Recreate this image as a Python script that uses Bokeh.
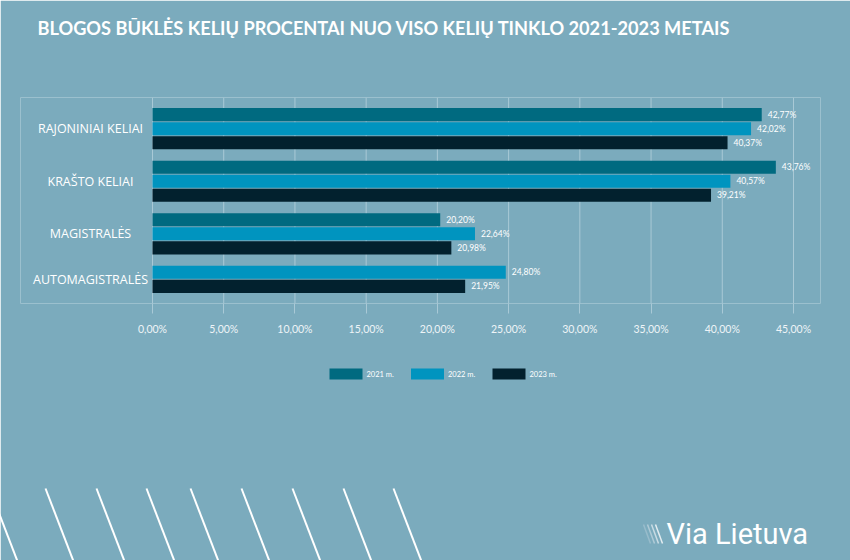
from bokeh.plotting import figure
from bokeh.models import ColumnDataSource, FactorRange, Range1d, FixedTicker
from bokeh.core.properties import value
from bokeh.embed import file_html
from bokeh.resources import INLINE

# ---------------- data ----------------
categories = ["RAJONINIAI KELIAI", "KRAŠTO KELIAI", "MAGISTRALĖS", "AUTOMAGISTRALĖS"]
years = ["2021 m.", "2022 m.", "2023 m."]
values_2021 = [42.77, 43.76, 20.20, None]
values_2022 = [42.02, 40.57, 22.64, 24.80]
values_2023 = [40.37, 39.21, 20.98, 21.95]
x_ticks = [0, 5, 10, 15, 20, 25, 30, 35, 40, 45]
x_tick_labels = ["0,00%", "5,00%", "10,00%", "15,00%", "20,00%",
                 "25,00%", "30,00%", "35,00%", "40,00%", "45,00%"]
title_text = "BLOGOS BŪKLĖS KELIŲ PROCENTAI NUO VISO KELIŲ TINKLO 2021-2023 METAIS"
logo_text = "Via Lietuva"

# ---------------- style ----------------
BG = "#7BABBD"
COLORS = ["#006A80", "#0094BF", "#02212E"]
GRID = "#A9C9D6"
FONT = "Lato"
W, H = 850, 560
LEFT, RIGHT, TOP, BOTTOM = 20, 820, 97, 303   # frame edges (px)
ZERO_PX = 152
PX_PER_UNIT = (793 - ZERO_PX) / 45.0
x0 = -(ZERO_PX - LEFT) / PX_PER_UNIT
x1 = (RIGHT - ZERO_PX) / PX_PER_UNIT
GROUP_PAD, RANGE_PAD = 0.74, 0.72

series = [values_2021, values_2022, values_2023]

factors = []
for ci in reversed(range(len(categories))):
    for yi in reversed(range(len(years))):
        if series[yi][ci] is not None:
            factors.append((categories[ci], years[yi]))

y_range = FactorRange(*factors, group_padding=GROUP_PAD, factor_padding=0.0,
                      range_padding=RANGE_PAD, range_padding_units="absolute")

# helpers: page pixel -> plot coordinates (for page decorations outside the frame)
_span = len(factors) + (len(categories) - 1) * GROUP_PAD + 2 * RANGE_PAD
def px_x(px):
    return (px - ZERO_PX) / PX_PER_UNIT
def px_y(py):
    return -RANGE_PAD + (BOTTOM - py) * _span / (BOTTOM - TOP)

p = figure(width=W, height=H, x_range=Range1d(x0, x1), y_range=y_range,
           output_backend="svg", toolbar_location=None,
           min_border_left=LEFT, min_border_right=W - RIGHT,
           min_border_top=TOP, min_border_bottom=H - BOTTOM,
           outline_line_color=None,
           background_fill_color=BG, border_fill_color=BG)

# axes
p.yaxis.visible = False
xa = p.xaxis[0]
xa.ticker = FixedTicker(ticks=x_ticks)
xa.major_label_overrides = {t_: l for t_, l in zip(x_ticks, x_tick_labels)}
xa.axis_line_color = None
xa.major_tick_line_color = GRID
xa.major_tick_out = 10
xa.major_tick_in = 0
xa.minor_tick_line_color = None
xa.major_label_standoff = 9
xa.major_label_text_color = "#EEF4F7"
xa.major_label_text_font = FONT
xa.major_label_text_font_size = "10.5px"

# vertical gridlines at the tick values (drawn as an underlay)
p.grid.visible = False
p.segment(x0=x_ticks, x1=x_ticks, y0=[px_y(TOP)] * len(x_ticks),
          y1=[px_y(BOTTOM)] * len(x_ticks), level="underlay",
          line_color=GRID, line_width=1)

for yi, yr in enumerate(years):
    fs, vs, labs = [], [], []
    for ci, cat in enumerate(categories):
        v = series[yi][ci]
        if v is None:
            continue
        fs.append((cat, yr))
        vs.append(v)
        labs.append(f"{v:.2f}%".replace(".", ","))
    src = ColumnDataSource(dict(f=fs, v=vs, lbl=labs))
    p.hbar(y="f", left=0, right="v", height=0.93, source=src,
           fill_color=COLORS[yi], line_color=None)
    p.text(x="v", y="f", text="lbl", source=src, x_offset=6,
           text_baseline="middle", text_align="left",
           text_font=value(FONT), text_font_size="8.5px", text_color="white")

# category labels
csrc = ColumnDataSource(dict(y=categories, x=[0] * len(categories), t=categories))
p.text(x="x", y="y", text="t", source=csrc, x_offset=-62, text_align="center",
       text_baseline="middle", text_font=value("Open Sans"), text_font_size="12.5px",
       text_color="white")

# ---------------- legend (drawn below the axis) ----------------
LEG_X, LEG_STEP, SW_W, SW_TOP, SW_BOT = 329, 81.5, 33, 368, 379
leg_left = [LEG_X + i * LEG_STEP for i in range(len(years))]
p.quad(left=[px_x(x) for x in leg_left], right=[px_x(x + SW_W) for x in leg_left],
       top=[px_y(SW_TOP)] * len(years), bottom=[px_y(SW_BOT)] * len(years),
       fill_color=COLORS, line_color=None, level="overlay")
p.text(x=[px_x(x + SW_W + 4) for x in leg_left], y=[px_y((SW_TOP + SW_BOT) / 2)] * len(years),
       text=years, level="overlay", text_baseline="middle", text_align="left",
       text_font=value(FONT), text_font_size="7.5px", text_color="white")

# ---------------- page decorations (overlay level, outside the frame) ----------------
p.text(x=[px_x(37)], y=[px_y(27)], text=[title_text], level="overlay",
       text_baseline="middle", text_align="left",
       text_font=value(FONT), text_font_style="bold", text_font_size="18.2px",
       text_color="white")

line_tops = [-11, 45, 96, 146, 190, 241, 292, 343, 393]
p.segment(x0=[px_x(x) for x in line_tops], y0=[px_y(488)] * len(line_tops),
          x1=[px_x(x + 30) for x in line_tops], y1=[px_y(566)] * len(line_tops),
          level="overlay", line_color="white", line_width=2)

slash_x = [643, 647, 651, 655]
slash_c = ["#98BCCB", "#AFCAD6", "#C8DBE3", "#E2ECF0"]
p.segment(x0=[px_x(x) for x in slash_x], y0=[px_y(524)] * 4,
          x1=[px_x(x + 7) for x in slash_x], y1=[px_y(543)] * 4,
          level="overlay", line_color=slash_c, line_width=1.5)
p.text(x=[px_x(666)], y=[px_y(533)], text=[logo_text], level="overlay",
       text_baseline="middle",
       text_font=value("Roboto"), text_font_size="29px", text_color="white")

open("out.html", "w").write(file_html(p, INLINE))
